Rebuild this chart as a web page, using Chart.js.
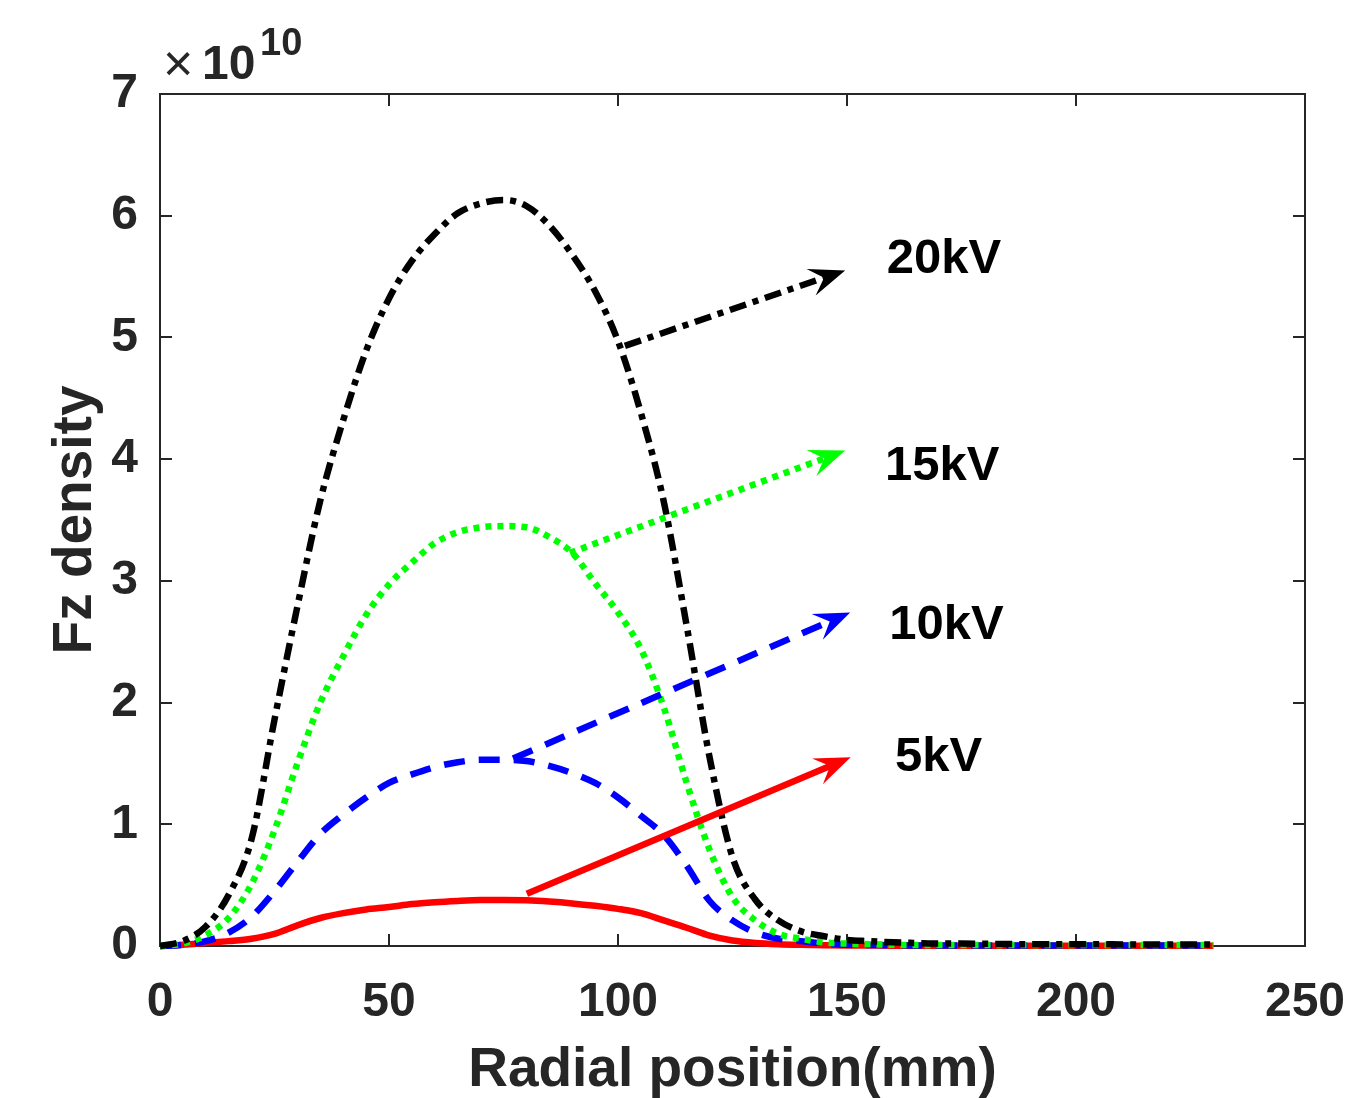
<!DOCTYPE html>
<html>
<head>
<meta charset="utf-8">
<script src="https://cdn.jsdelivr.net/npm/chart.js@4.4.1/dist/chart.umd.min.js"></script>
<style>
html,body{margin:0;padding:0;background:#ffffff;}
#wrap{width:1345px;height:1098px;position:relative;}
</style>
</head>
<body>
<div id="wrap"><canvas id="c" width="1345" height="1098"></canvas></div>
<script>
// ---- data (values in units of 1e10) ----
const radialPosition = [0,5,10,15,20,25,30,35,40,45,50,55,60,65,70,75,80,85,90,95,100,105,110,115,120,125,130,135,140,145,150,155,160,165,170,175,180,185,190,195,200,205,210,215,220,225,230];
const fz20kV = [0,0.04,0.16,0.42,0.88,1.86,2.79,3.66,4.32,4.89,5.32,5.63,5.85,6.02,6.10,6.13,6.08,5.92,5.68,5.38,4.97,4.38,3.65,2.63,1.55,0.73,0.38,0.21,0.12,0.08,0.05,0.04,0.03,0.025,0.02,0.02,0.018,0.016,0.015,0.015,0.014,0.014,0.013,0.013,0.012,0.012,0.012];
const fz15kV = [0,0.02,0.09,0.23,0.51,0.95,1.50,2.00,2.38,2.72,2.97,3.15,3.31,3.40,3.44,3.45,3.44,3.36,3.23,2.98,2.74,2.44,1.96,1.34,0.79,0.40,0.21,0.10,0.06,0.03,0.02,0.015,0.01,0.008,0.008,0.008,0.008,0.008,0.008,0.008,0.008,0.008,0.008,0.008,0.008,0.008,0.008];
const fz10kV = [0,0.01,0.04,0.11,0.24,0.45,0.69,0.92,1.08,1.22,1.34,1.41,1.47,1.51,1.53,1.53,1.52,1.48,1.42,1.34,1.22,1.07,0.91,0.66,0.37,0.21,0.11,0.06,0.04,0.02,0.01,0.008,0.006,0.005,0.005,0.005,0.005,0.005,0.005,0.005,0.005,0.005,0.005,0.005,0.005,0.005,0.005];
const fz5kV  = [0,0.01,0.025,0.04,0.06,0.10,0.17,0.23,0.27,0.30,0.32,0.345,0.36,0.37,0.377,0.378,0.375,0.365,0.35,0.33,0.305,0.27,0.21,0.15,0.085,0.045,0.025,0.015,0.01,0.007,0.005,0.004,0.003,0.003,0.003,0.003,0.003,0.003,0.003,0.003,0.003,0.003,0.003,0.003,0.003,0.003,0.003];
const seriesLabels = ['20kV','15kV','10kV','5kV'];
const xTickValues = [0,50,100,150,200,250];
const yTickValues = [0,1,2,3,4,5,6,7];
const exponentLabel = '10';

// ---- annotation arrows (data coordinates) ----
const arrowTails = [[101.5,4.93],[89.5,3.23],[77.1,1.54],[80.1,0.43]];
const arrowTips  = [[149.6,5.55],[149.6,4.07],[150.7,2.74],[150.8,1.55]];
const labelAnchors = [[158.7,5.64],[158.3,3.94],[159.2,2.63],[160.5,1.55]];

// ---- styles ----
const FONT = '"Liberation Sans", Arial, Helvetica, sans-serif';
const AXIS_COLOR = '#262626';
const colors = ['#000000','#00ff00','#0000ff','#ff0000'];
const dashes = [[17,7,6,7],[6,6],[21,14],[]];
const LW = 6.5;

const seriesValues = [fz20kV, fz15kV, fz10kV, fz5kV];
const datasets = seriesValues.map((vals,i)=>({
  label: seriesLabels[i],
  data: radialPosition.map((x,j)=>({x:x, y:vals[j]})),
  borderColor: colors[i],
  borderWidth: LW,
  borderDash: dashes[i],
  borderCapStyle: 'butt',
  pointRadius: 0,
  fill: false,
  cubicInterpolationMode: 'monotone',
  clip: false,
  order: i
}));

function drawArrow(ctx, x1, y1, x2, y2, color, dash){
  const ang = Math.atan2(y2-y1, x2-x1);
  const c = Math.cos(ang), s = Math.sin(ang);
  const L = 36, W = 14, notch = 0.62*L;
  ctx.save();
  ctx.strokeStyle = color; ctx.fillStyle = color;
  ctx.lineWidth = LW; ctx.lineCap = 'butt';
  ctx.setLineDash(dash);
  ctx.beginPath();
  ctx.moveTo(x1,y1);
  ctx.lineTo(x2 - c*notch, y2 - s*notch);
  ctx.stroke();
  ctx.setLineDash([]);
  ctx.beginPath();
  ctx.moveTo(x2,y2);
  ctx.lineTo(x2 - L*c + W*s, y2 - L*s - W*c);
  ctx.lineTo(x2 - notch*c, y2 - notch*s);
  ctx.lineTo(x2 - L*c - W*s, y2 - L*s + W*c);
  ctx.closePath();
  ctx.fill();
  ctx.restore();
}

const framePlugin = {
  id: 'frame',
  beforeDatasetsDraw(chart){
    const {ctx, chartArea:a, scales:{x,y}} = chart;
    ctx.save();
    ctx.strokeStyle = AXIS_COLOR;
    ctx.lineWidth = 2;
    ctx.strokeRect(a.left, a.top, a.right-a.left, a.bottom-a.top);
    const tl = 12;
    ctx.beginPath();
    xTickValues.forEach(v=>{
      const px = Math.round(x.getPixelForValue(v));
      ctx.moveTo(px, a.bottom); ctx.lineTo(px, a.bottom - tl);
      ctx.moveTo(px, a.top); ctx.lineTo(px, a.top + tl);
    });
    yTickValues.forEach(v=>{
      const py = Math.round(y.getPixelForValue(v));
      ctx.moveTo(a.left, py); ctx.lineTo(a.left + tl, py);
      ctx.moveTo(a.right, py); ctx.lineTo(a.right - tl, py);
    });
    ctx.stroke();
    // exponent label
    ctx.fillStyle = AXIS_COLOR;
    ctx.textBaseline = 'alphabetic';
    ctx.textAlign = 'left';
    ctx.font = '52px ' + FONT;
    ctx.fillText('\u00d7', a.left + 3, a.top - 13);
    ctx.font = 'bold 48px ' + FONT;
    ctx.fillText('10', a.left + 42, a.top - 15);
    ctx.font = 'bold 38px ' + FONT;
    ctx.fillText(exponentLabel, a.left + 100, a.top - 39);
    ctx.restore();
  },
  afterDatasetsDraw(chart){
    const {ctx, scales:{x,y}} = chart;
    for (let i=0;i<arrowTails.length;i++){
      drawArrow(ctx,
        x.getPixelForValue(arrowTails[i][0]), y.getPixelForValue(arrowTails[i][1]),
        x.getPixelForValue(arrowTips[i][0]), y.getPixelForValue(arrowTips[i][1]),
        colors[i], dashes[i]);
    }
    ctx.save();
    ctx.fillStyle = '#000000';
    ctx.font = 'bold 49px ' + FONT;
    ctx.textAlign = 'left';
    ctx.textBaseline = 'middle';
    for (let i=0;i<labelAnchors.length;i++){
      ctx.fillText(seriesLabels[i], x.getPixelForValue(labelAnchors[i][0]), y.getPixelForValue(labelAnchors[i][1]));
    }
    ctx.restore();
  }
};

new Chart(document.getElementById('c'), {
  type: 'line',
  data: { datasets },
  options: {
    responsive: false,
    animation: false,
    events: [],
    layout: { padding: { left: 0, right: 40, top: 94, bottom: 0 } },
    plugins: { legend: { display: false }, tooltip: { enabled: false } },
    scales: {
      x: {
        type: 'linear', min: 0, max: 250,
        afterBuildTicks: s => { s.ticks = xTickValues.map(v=>({value:v})); },
        afterFit: s => { s.height = 152; s.paddingLeft = 0; s.paddingRight = 0; },
        grid: { display: false },
        border: { display: false },
        ticks: { autoSkip: false, maxRotation: 0, color: AXIS_COLOR, padding: 20,
                 font: { family: FONT, size: 48, weight: 'bold' } },
        title: { display: true, text: 'Radial position(mm)', color: AXIS_COLOR,
                 font: { family: FONT, size: 55, weight: 'bold', lineHeight: 1.0 },
                 padding: { top: 0, bottom: 0 } }
      },
      y: {
        type: 'linear', min: 0, max: 7,
        afterBuildTicks: s => { s.ticks = yTickValues.map(v=>({value:v})); },
        afterFit: s => { s.width = 160; s.paddingTop = 0; s.paddingBottom = 0; },
        grid: { display: false },
        border: { display: false },
        ticks: { autoSkip: false, color: AXIS_COLOR, padding: 14,
                 font: { family: FONT, size: 48, weight: 'bold' } },
        title: { display: true, text: 'Fz density', color: AXIS_COLOR,
                 font: { family: FONT, size: 55, weight: 'bold', lineHeight: 1.0 },
                 padding: { top: 48, bottom: 0 } }
      }
    }
  },
  plugins: [framePlugin]
});
</script>
</body>
</html>
